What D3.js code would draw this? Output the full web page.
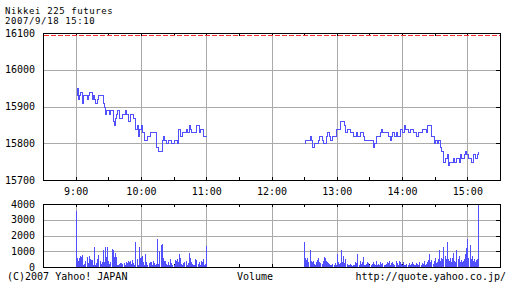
<!DOCTYPE html>
<html>
<head>
<meta charset="utf-8">
<script src="https://cdn.jsdelivr.net/npm/d3@7"></script>
<style>
    body { margin: 0; background: #fff; }
    svg text { font-family: 'DejaVu Sans Mono', monospace; font-size: 10px; fill: #000; }
    svg text.head { font-size: 9px; letter-spacing: 0.6px; }
</style>
</head>
<body>
<div id="chart"></div>
<script>
// ---- data ----
const title = "Nikkei 225 futures"
const stamp = "2007/9/18 15:10"
const footLeft = "(C)2007 Yahoo! JAPAN"
const footMid = "Volume"
const footRight = "http://quote.yahoo.co.jp/"

const hourTicks = ["9:00", "10:00", "11:00", "12:00", "13:00", "14:00", "15:00"]
const halfTicks = ["9:30", "10:30", "11:30", "12:30", "13:30", "14:30"]
const priceTicks = [15700, 15800, 15900, 16000, 16100]
const volumeTicks = [0, 1000, 2000, 3000, 4000]
const refPrice = 16095   // red dashed line

// morning session, step points
const amTimes = ["9:00","9:01","9:02","9:03","9:04","9:06","9:07","9:10","9:11","9:12","9:15","9:16","9:17","9:18","9:20","9:21","9:25","9:26","9:27","9:28","9:31","9:32","9:34","9:35","9:36","9:37","9:38","9:40","9:43","9:45","9:46","9:48","9:50","9:53","9:55","9:56","9:57","9:58","10:00","10:01","10:03","10:06","10:08","10:14","10:16","10:19","10:20","10:21","10:23","10:25","10:28","10:30","10:33","10:34","10:36","10:38","10:41","10:42","10:44","10:45","10:46","10:51","10:53","10:54","10:57","11:00"]
const amPrices = [15930,15950,15920,15930,15940,15910,15930,15920,15930,15940,15920,15930,15920,15910,15920,15930,15910,15900,15880,15890,15880,15890,15860,15850,15870,15880,15890,15870,15880,15890,15880,15860,15880,15870,15840,15850,15820,15840,15850,15830,15810,15820,15830,15790,15780,15810,15820,15810,15800,15810,15800,15810,15800,15840,15820,15830,15840,15830,15850,15840,15830,15850,15830,15840,15820,15820]

// afternoon session, step points
const pmTimes = ["12:30","12:31","12:35","12:36","12:37","12:39","12:43","12:44","12:46","12:47","12:50","12:51","12:53","12:54","12:56","12:59","13:03","13:07","13:08","13:09","13:12","13:15","13:18","13:19","13:21","13:24","13:25","13:33","13:34","13:36","13:40","13:41","13:42","13:47","13:49","13:50","13:51","13:53","13:54","13:55","13:58","14:00","14:02","14:03","14:05","14:07","14:10","14:13","14:15","14:18","14:22","14:23","14:27","14:29","14:30","14:32","14:33","14:35","14:36","14:38","14:39","14:41","14:42","14:43","14:47","14:48","14:50","14:52","14:53","14:54","14:57","14:58","14:59","15:01","15:03","15:05","15:07","15:09","15:10"]
const pmPrices = [15800,15810,15820,15810,15790,15800,15810,15820,15810,15800,15820,15830,15820,15810,15820,15840,15860,15850,15830,15840,15830,15820,15830,15820,15830,15820,15810,15790,15800,15820,15830,15840,15830,15820,15810,15820,15830,15820,15830,15820,15840,15830,15850,15840,15830,15840,15830,15820,15830,15840,15830,15850,15820,15800,15810,15800,15810,15790,15780,15750,15760,15770,15740,15750,15760,15750,15760,15750,15770,15760,15770,15780,15770,15760,15750,15770,15760,15770,15780]

// volume per minute, morning from 9:00, afternoon from 12:30
const amVolStart = "9:00"
const amVolume = [3550,580,400,560,720,640,780,120,200,350,620,260,700,480,420,470,150,1280,120,250,520,760,380,180,300,1050,300,1280,660,1280,380,160,300,1150,1080,660,860,620,150,100,200,250,240,180,250,120,330,250,400,300,350,200,440,250,120,1580,500,150,1250,600,650,700,300,100,820,300,120,250,300,300,150,350,250,100,200,1760,200,1000,1400,1460,600,350,400,200,120,300,100,500,250,120,150,450,350,500,300,850,600,200,120,250,300,380,150,250,880,600,300,200,150,100,500,420,200,300,120,350,300,520,100,200,1350]
const pmVolStart = "12:30"
const pmVolume = [1600,600,450,600,300,1100,350,300,400,200,150,300,450,550,300,250,200,350,650,600,400,300,250,200,150,100,200,150,250,100,800,300,200,250,1100,300,700,250,500,200,100,150,200,120,50,150,100,300,250,800,100,400,200,300,650,150,100,200,300,250,150,100,200,300,200,150,400,150,200,100,300,200,250,150,100,200,300,250,400,150,250,300,200,150,350,250,100,400,300,200,150,300,100,150,200,100,250,150,200,300,200,100,150,250,200,100,300,150,250,200,350,150,200,300,450,850,300,450,200,350,600,250,300,500,1100,400,600,500,1300,700,500,1580,500,400,600,300,600,870,400,300,1050,500,700,300,470,300,400,500,830,1200,1800,570,1420,500,700,400,500,300,450,500,4000]

// ---- chart ----
const W = 512, H = 288
const blue = "#5050ff"
const grid = "#aaaaaa"
const plotL = 43, plotR = 500
const price = {top: 33, bottom: 180}
const vol = {top: 204, bottom: 267}

const parseT = d3.timeParse("%H:%M")
const fmtT = d3.timeFormat("%-H:%M")

const svg = d3.select("#chart").append("svg")
    .attr("width", W)
    .attr("height", H)

const x = d3.scaleTime()
    .domain([parseT("8:30"), parseT("15:30")])
    .range([plotL, plotR])

const yP = d3.scaleLinear().domain([15700, 16100]).range([price.bottom, price.top])
const yV = d3.scaleLinear().domain([0, 4000]).range([vol.bottom, vol.top])

const px = v => Math.round(v) + 0.5

function panel(yScale, ticks, box) {
    let g = svg.append("g").attr("shape-rendering", "crispEdges")

    // vertical grid at hours
    g.selectAll(".vg").data(hourTicks).enter().append("line")
        .attr("x1", d => px(x(parseT(d)))).attr("x2", d => px(x(parseT(d))))
        .attr("y1", box.top).attr("y2", box.bottom)
        .attr("stroke", grid)

    // horizontal grid
    g.selectAll(".hg").data(ticks.slice(1, -1)).enter().append("line")
        .attr("x1", plotL).attr("x2", plotR)
        .attr("y1", d => px(yScale(d))).attr("y2", d => px(yScale(d)))
        .attr("stroke", grid)

    // right ticks
    g.selectAll(".rt").data(ticks).enter().append("line")
        .attr("x1", plotR - 4).attr("x2", plotR)
        .attr("y1", d => px(yScale(d))).attr("y2", d => px(yScale(d)))
        .attr("stroke", "#000")

    // half hour ticks, top and bottom
    let allTicks = hourTicks.concat(halfTicks)
    g.selectAll(".tt").data(allTicks).enter().append("line")
        .attr("x1", d => px(x(parseT(d)))).attr("x2", d => px(x(parseT(d))))
        .attr("y1", box.top).attr("y2", box.top + 3)
        .attr("stroke", "#000")
    g.selectAll(".bt").data(allTicks).enter().append("line")
        .attr("x1", d => px(x(parseT(d)))).attr("x2", d => px(x(parseT(d))))
        .attr("y1", box.bottom - 3).attr("y2", box.bottom)
        .attr("stroke", "#000")

    // y labels
    svg.append("g").selectAll("text").data(ticks).enter().append("text")
        .attr("x", plotL - 8)
        .attr("y", d => yScale(d) + 3.5)
        .attr("text-anchor", "end")
        .text(d => d)

    return g
}

function frame(box) {
    svg.append("rect")
        .attr("x", plotL + 0.5).attr("y", box.top + 0.5)
        .attr("width", plotR - plotL).attr("height", box.bottom - box.top)
        .attr("fill", "none")
        .attr("stroke", "#000")
        .attr("shape-rendering", "crispEdges")
}

// price panel
panel(yP, priceTicks, price)

let line = d3.line()
    .x(d => px(x(d.t)))
    .y(d => px(yP(d.p)))
    .curve(d3.curveStepAfter)

let sessions = [
    amTimes.map((t, i) => ({t: parseT(t), p: amPrices[i]})),
    pmTimes.map((t, i) => ({t: parseT(t), p: pmPrices[i]}))
]

svg.selectAll(".price").data(sessions).enter().append("path")
    .attr("d", line)
    .attr("fill", "none")
    .attr("stroke", blue)
    .attr("stroke-width", 1)
    .attr("shape-rendering", "crispEdges")

frame(price)

// reference line (red dashes)
svg.append("line")
    .attr("x1", plotL + 1).attr("x2", plotR)
    .attr("y1", px(yP(refPrice))).attr("y2", px(yP(refPrice)))
    .attr("stroke", "#ff3030")
    .attr("stroke-dasharray", "5,2")
    .attr("shape-rendering", "crispEdges")

// time labels
svg.append("g").selectAll("text").data(hourTicks).enter().append("text")
    .attr("x", d => x(parseT(d)) + 0.5)
    .attr("y", 195)
    .attr("text-anchor", "middle")
    .text(d => fmtT(parseT(d)))

// volume panel
panel(yV, volumeTicks, vol)

let bars = amVolume.map((v, i) => ({t: d3.timeMinute.offset(parseT(amVolStart), i), v: v}))
    .concat(pmVolume.map((v, i) => ({t: d3.timeMinute.offset(parseT(pmVolStart), i), v: v})))

svg.append("g").attr("shape-rendering", "crispEdges")
    .selectAll("rect").data(bars).enter().append("rect")
    .attr("x", d => Math.round(x(d.t)))
    .attr("width", 1)
    .attr("y", d => Math.round(yV(d.v)))
    .attr("height", d => vol.bottom - Math.round(yV(d.v)))
    .attr("fill", blue)

frame(vol)

// texts
svg.append("text").attr("class", "head").attr("x", 5).attr("y", 13.5).text(title)
svg.append("text").attr("class", "head").attr("x", 5).attr("y", 23.5).text(stamp)
svg.append("text").attr("x", 7).attr("y", 280).text(footLeft)
svg.append("text").attr("x", 237).attr("y", 280).text(footMid)
svg.append("text").attr("x", 506).attr("y", 280).attr("text-anchor", "end").text(footRight)
</script>
</body>
</html>
